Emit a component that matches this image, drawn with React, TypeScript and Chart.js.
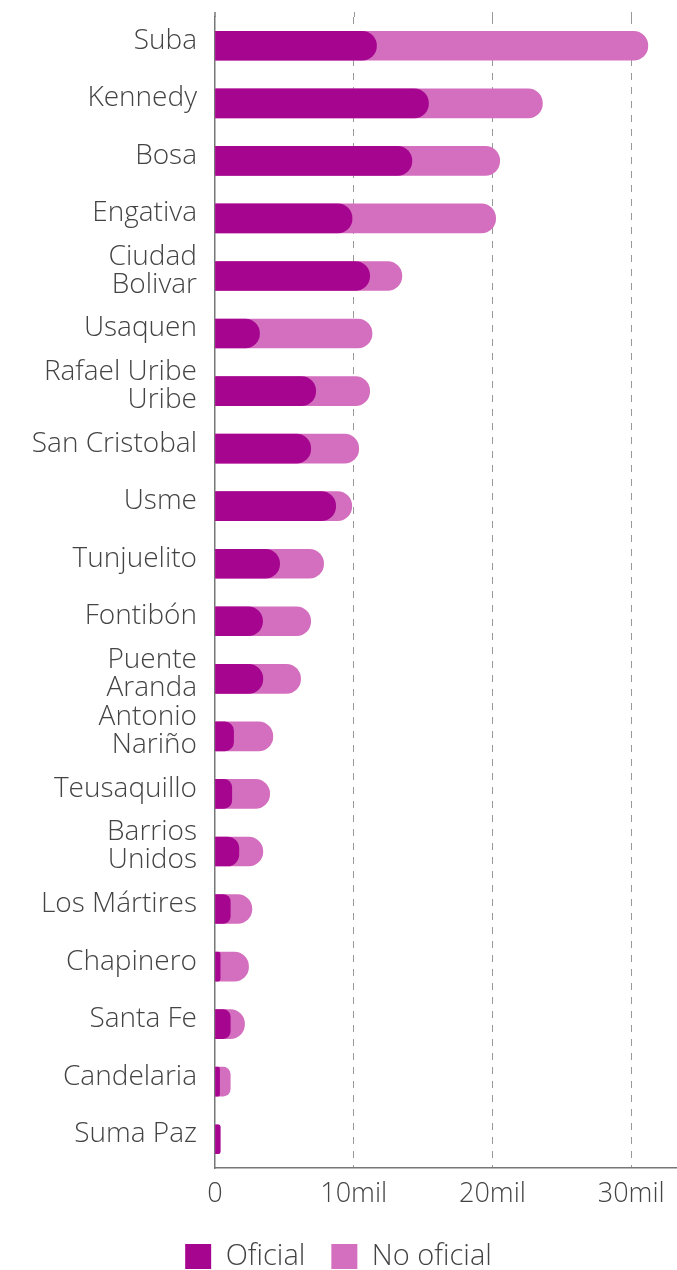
import { useEffect, useRef } from "react";
import { Chart, registerables } from "chart.js";

Chart.register(...registerables);

const categories: (string | string[])[] = [
  "Suba",
  "Kennedy",
  "Bosa",
  "Engativa",
  ["Ciudad", "Bolivar"],
  "Usaquen",
  ["Rafael Uribe", "Uribe"],
  "San Cristobal",
  "Usme",
  "Tunjuelito",
  "Fontibón",
  ["Puente", "Aranda"],
  ["Antonio", "Nariño"],
  "Teusaquillo",
  ["Barrios", "Unidos"],
  "Los Mártires",
  "Chapinero",
  "Santa Fe",
  "Candelaria",
  "Suma Paz",
];

const oficial = [
  11640, 15390, 14190, 9880, 11150, 3210, 7260, 6900, 8700, 4660,
  3430, 3450, 1340, 1210, 1720, 1100, 370, 1100, 330, 370,
];

const noOficial = [
  19560, 8210, 6330, 10350, 2320, 8110, 3890, 3460, 1160, 3170,
  3470, 2720, 2830, 2730, 1730, 1560, 2050, 1030, 770, 0,
];

const xTicks = [0, 10000, 20000, 30000];

const seriesNames = ["Oficial", "No oficial"];
const colors = ["#a6068f", "#d46ebf"];

const FONT = "'Open Sans', Lato, sans-serif";
const TEXT = "#444444";

export default function App() {
  const ref = useRef<HTMLCanvasElement | null>(null);

  useEffect(() => {
    if (!ref.current) return;
    const totals = oficial.map((v, i) => v + noOficial[i]);

    const extendTop = {
      id: "extendTop",
      afterDraw(chart: any) {
        const { ctx, chartArea } = chart;
        const xs = chart.scales.x;
        if (chartArea.top <= 12) return;
        ctx.save();
        ctx.lineWidth = 1;
        ctx.strokeStyle = "#999999";
        ctx.setLineDash([7, 7]);
        for (const t of xTicks) {
          if (t === 0) continue;
          const px = Math.round(xs.getPixelForValue(t)) + 0.5;
          ctx.beginPath();
          ctx.moveTo(px, 12);
          ctx.lineTo(px, chartArea.top);
          ctx.stroke();
        }
        ctx.setLineDash([]);
        ctx.strokeStyle = "#777777";
        ctx.lineWidth = 1.5;
        ctx.beginPath();
        ctx.moveTo(chartArea.left, 12);
        ctx.lineTo(chartArea.left, chartArea.top);
        ctx.stroke();
        ctx.restore();
      },
    };

    const chart = new Chart(ref.current, {
      type: "bar",
      data: {
        labels: categories as any,
        datasets: [
          {
            label: seriesNames[0],
            data: oficial,
            backgroundColor: colors[0],
            borderRadius: 15,
            borderSkipped: "start",
            grouped: false,
            barThickness: 29,
          } as any,
          {
            label: seriesNames[1],
            data: totals,
            backgroundColor: colors[1],
            borderRadius: 15,
            borderSkipped: "start",
            grouped: false,
            barThickness: 29,
          } as any,
        ],
      },
      options: {
        indexAxis: "y",
        animation: false,
        responsive: false,
        maintainAspectRatio: false,
        layout: { padding: { top: 17, right: 0, left: 0, bottom: -11 } },
        plugins: {
          tooltip: { enabled: false },
          legend: {
            position: "bottom",
            labels: {
              boxWidth: 26,
              boxHeight: 25,
              padding: 26,
              color: TEXT,
              font: { family: FONT, size: 29, weight: "300" as any },
            },
          },
        },
        scales: {
          x: {
            min: 0,
            max: 33300,
            afterBuildTicks: (scale: any) => {
              scale.ticks = xTicks.map((v) => ({ value: v }));
            },
            afterFit: (scale: any) => {
              scale.height = 48;
              scale.paddingLeft = 0;
              scale.paddingRight = 0;
            },
            grid: {
              display: true,
              drawTicks: false,
              color: (c: any) => (c.tick && c.tick.value === 0 ? "rgba(0,0,0,0)" : "#999999"),
              lineWidth: 1,
            },
            border: { display: true, color: "#777777", width: 1.5, dash: [7, 7] },
            ticks: {
              padding: 10,
              color: TEXT,
              maxRotation: 0,
              font: { family: FONT, size: 27, weight: "300" as any },
              callback: (v: any) => (Number(v) === 0 ? "0" : Number(v) / 1000 + "mil"),
            },
          },
          y: {
            afterFit: (scale: any) => {
              scale.width = 215;
              scale.paddingTop = 0;
              scale.paddingBottom = 0;
            },
            grid: { display: false, drawTicks: false },
            border: { display: true, color: "#777777", width: 1.5 },
            ticks: {
              padding: 18,
              labelOffset: -5,
              color: TEXT,
              autoSkip: false,
              font: { family: FONT, size: 28, weight: "300" as any, lineHeight: 1.0 },
            },
          },
        },
      },
      plugins: [extendTop],
    });
    return () => chart.destroy();
  }, []);

  return (
    <div style={{ position: "absolute", left: 0, top: 0, width: 677, height: 1270 }}>
      <canvas ref={ref} width={677} height={1270} style={{ display: "block", width: 677, height: 1270 }} />
    </div>
  );
}
